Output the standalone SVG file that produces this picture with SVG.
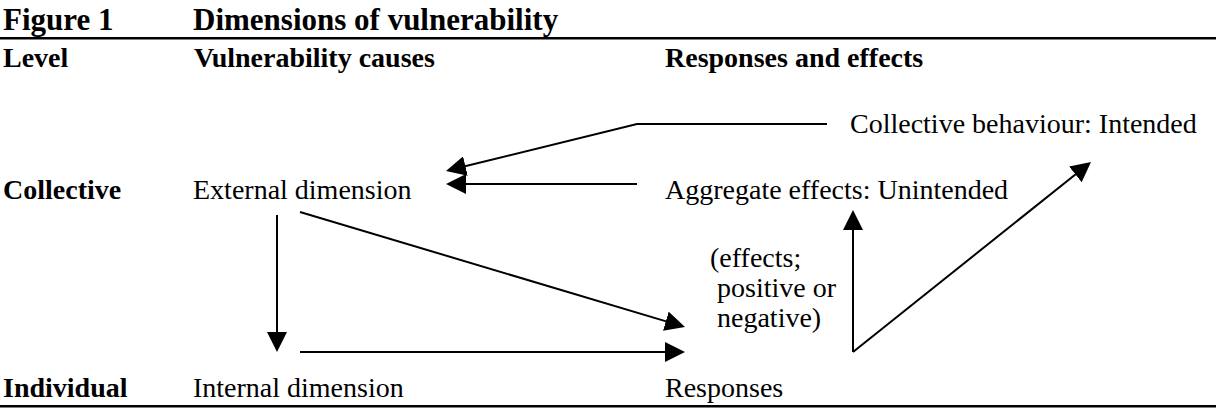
<svg xmlns="http://www.w3.org/2000/svg" width="1216" height="410" viewBox="0 0 1216 410">
<style>
text{font-family:"Liberation Serif","Times New Roman",serif;fill:#000}
.t{font-size:31px;font-weight:bold}
.h{font-size:28px;font-weight:bold}
.n{font-size:28px}
.c{stroke:#000;stroke-width:2;fill:none}
</style>
<defs>
<marker id="ah" markerUnits="userSpaceOnUse" markerWidth="20" markerHeight="20" refX="10" refY="10" orient="auto" viewBox="0 0 20 20">
<path d="M0,0 L20,10 L0,20 z" fill="#000"/>
</marker>
</defs>
<rect width="1216" height="410" fill="#fff"/>
<g id="header">
<text class="t" x="3" y="30">Figure 1</text>
<text class="t" x="193" y="30">Dimensions of vulnerability</text>
<rect x="0" y="37" width="1216" height="2.5" fill="#000"/>
<text class="h" x="3" y="67">Level</text>
<text class="h" x="194" y="67">Vulnerability causes</text>
<text class="h" x="665" y="67">Responses and effects</text>
<rect x="0" y="405" width="1216" height="2.5" fill="#000"/>
</g>
<g id="level-collective"><text class="h" x="3" y="199">Collective</text></g>
<g id="level-individual"><text class="h" x="3" y="397">Individual</text></g>
<g id="external"><text class="n" x="193" y="199">External dimension</text></g>
<g id="internal"><text class="n" x="193" y="397">Internal dimension</text></g>
<g id="collective-behaviour"><text class="n" x="850" y="133">Collective behaviour: Intended</text></g>
<g id="aggregate"><text class="n" x="665" y="199">Aggregate effects: Unintended</text></g>
<g id="effects-note">
<text class="n" x="710" y="267">(effects;</text>
<text class="n" x="717" y="297">positive or</text>
<text class="n" x="717" y="327">negative)</text>
</g>
<g id="responses"><text class="n" x="665" y="397">Responses</text></g>
<g id="connectors">
<polyline class="c" points="827,124 637,124 455.7,168.5" marker-end="url(#ah)"/>
<line class="c" x1="637" y1="184" x2="456" y2="184" marker-end="url(#ah)"/>
<line class="c" x1="277" y1="215" x2="277" y2="342" marker-end="url(#ah)"/>
<line class="c" x1="300" y1="212" x2="675.4" y2="324.1" marker-end="url(#ah)"/>
<line class="c" x1="300" y1="352" x2="675" y2="352" marker-end="url(#ah)"/>
<line class="c" x1="853" y1="352" x2="853" y2="220" marker-end="url(#ah)"/>
<line class="c" x1="853" y1="352" x2="1083.2" y2="168.2" marker-end="url(#ah)"/>
</g>
</svg>
